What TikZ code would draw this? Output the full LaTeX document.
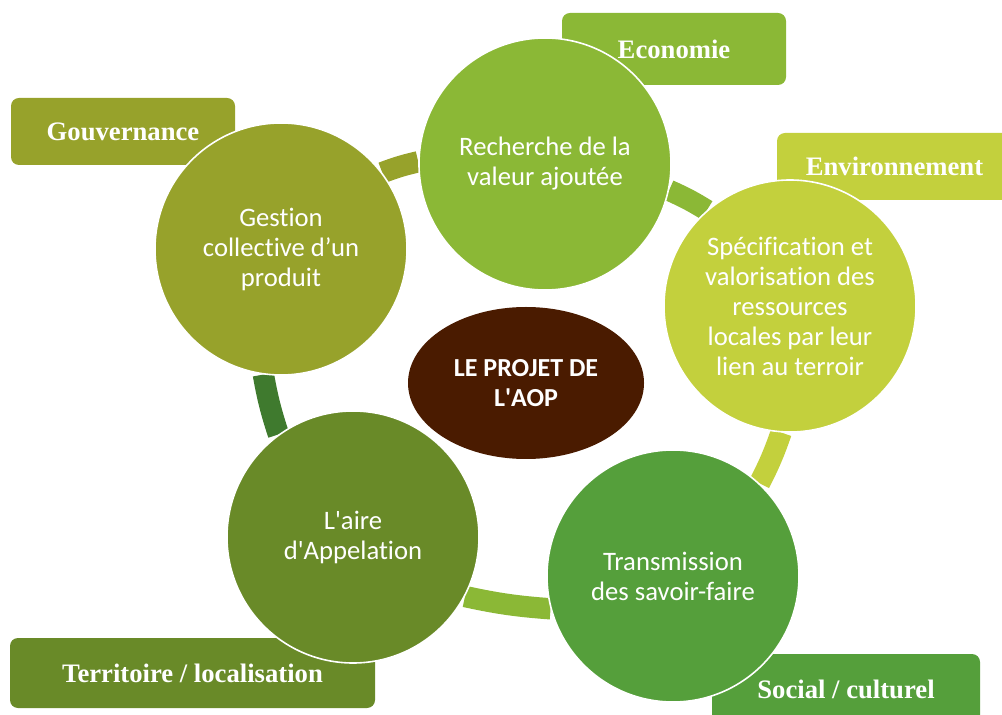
\documentclass[tikz,border=0pt]{standalone}
\usepackage{fontspec}
\setmainfont{Carlito}[Ligatures={NoCommon}]
\newfontfamily\tagfont{Liberation Serif}
\usetikzlibrary{shapes.geometric}

\definecolor{gouvcol}{RGB}{151,162,43}
\definecolor{ecocol}{RGB}{139,184,54}
\definecolor{envcol}{RGB}{195,208,61}
\definecolor{soccol}{RGB}{85,159,59}
\definecolor{terrcol}{RGB}{105,138,40}
\definecolor{projcol}{RGB}{74,27,0}
\definecolor{ringea}{RGB}{63,122,46}

\pgfdeclarelayer{background}
\pgfsetlayers{background,main}

\tikzset{
  themecircle/.style={circle, fill=#1, draw=white, line width=1.2pt, minimum size=189pt,
    inner sep=0pt, text=white, align=center, font=\fontsize{20}{22.5}\selectfont},
  tagbox/.style={rectangle, rounded corners=6pt, fill=#1, text=white,
    font=\tagfont\bfseries\fontsize{20}{24}\selectfont},
  ringseg/.style={draw=#1, line width=16pt}
}

\begin{document}
\begin{tikzpicture}[x=0.75pt, y=0.75pt]
  % Frame
  \useasboundingbox (0,0) rectangle (1002,714);
  \clip (0,0) rectangle (1002,714);
  % Theme tags
  \node[tagbox=gouvcol, minimum width=168pt, minimum height=50.25pt] (gouvernance) at (123,582.5) {Gouvernance};
  \node[tagbox=ecocol, minimum width=168pt, minimum height=54pt] (economie) at (674,665) {Economie};
  \node[tagbox=envcol, minimum width=176.25pt, minimum height=50.25pt] (environnement) at (894.5,547.5) {Environnement};
  \node[tagbox=soccol, minimum width=201pt, minimum height=52.5pt] (social) at (846,25) {Social / culturel};
  \node[tagbox=terrcol, minimum width=273.75pt, minimum height=52.5pt] (territoire) at (192.5,41) {Territoire / localisation};
  % Theme circles
  \node[themecircle=gouvcol] (gestion) at (281,465) {Gestion\\collective d’un\\produit};
  \node[themecircle=ecocol] (recherche) at (545,550) {Recherche de la\\valeur ajoutée};
  \node[themecircle=envcol] (specif) at (790,408) {Spécification et\\valorisation des\\ressources\\locales par leur\\lien au terroir};
  \node[themecircle=soccol] (transmission) at (673,138) {Transmission\\des savoir-faire};
  \node[themecircle=terrcol] (aire) at (353,177) {L\textquotesingle{}aire\\d\textquotesingle{}Appelation};
  % Centre
  \node[ellipse, fill=projcol, minimum width=177pt, minimum height=114pt, inner sep=0pt,
    text=white, align=center, font=\bfseries\fontsize{19.5}{22.5}\selectfont] (projet) at (526,331)
    {LE PROJET DE\\L\textquotesingle{}AOP};
  % Ring segments
  \begin{pgfonlayer}{background}
    \foreach \src/\sa/\dst/\da/\col in {gestion/37/recherche/179/gouvcol,
        recherche/348/specif/131/ecocol, specif/266/transmission/47/envcol,
        transmission/195/aire/332/ecocol, aire/126/gestion/262/ringea}
      \draw[ringseg=\col] (\src.\sa) to[bend left=4] (\dst.\da);
  \end{pgfonlayer}
\end{tikzpicture}
\end{document}
